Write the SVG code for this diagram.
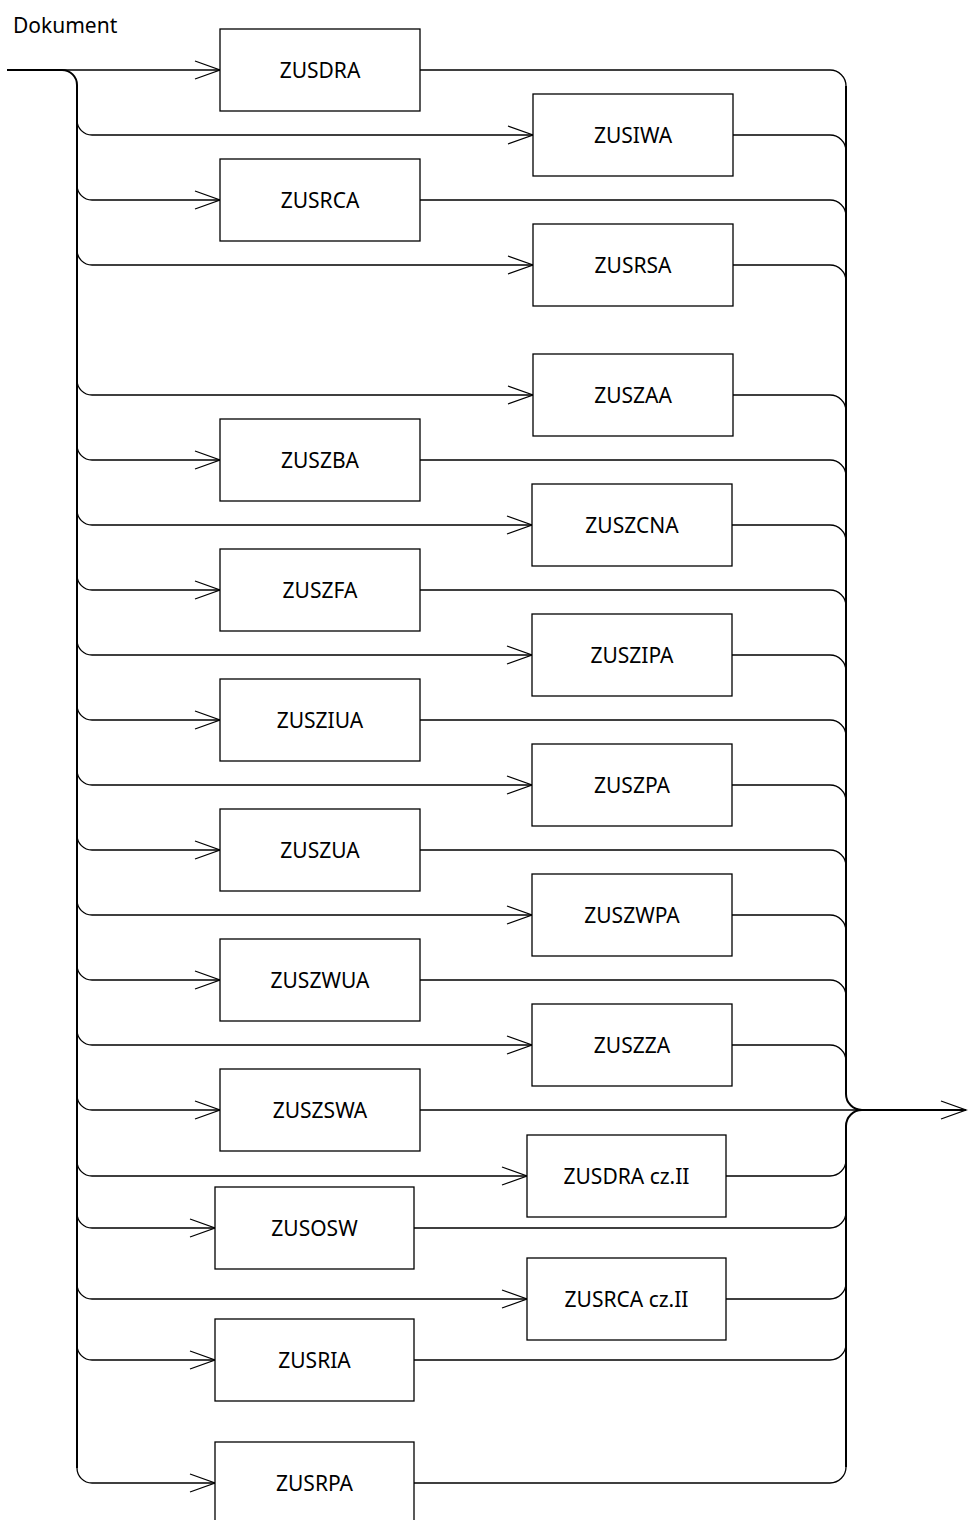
<svg xmlns="http://www.w3.org/2000/svg" width="968" height="1520" viewBox="0 0 968 1520">
<defs>
<marker id="arr" markerUnits="userSpaceOnUse" markerWidth="30" markerHeight="22" refX="0" refY="0" viewBox="-27 -11 30 22" orient="auto" overflow="visible">
<path d="M-25,-9 L0,0 L-25,9" fill="none" stroke="#000" stroke-width="1.3"/>
</marker>
</defs>
<style>
.box{fill:#fff;stroke:#000;stroke-width:1.3}
.lbl{font-family:"Noto Sans","Liberation Sans",sans-serif;font-size:21px;fill:#000;text-anchor:middle}
.ln{fill:none;stroke:#000;stroke-width:1.3}
.bus{fill:none;stroke:#000;stroke-width:2}
</style>
<rect width="968" height="1520" fill="#fff"/>
<text x="13" y="33" style="font-family:'Noto Sans','Liberation Sans',sans-serif;font-size:21px">Dokument</text>
<g id="connectors">
<path class="bus" d="M7,70 H62 a15,15 0 0 1 15,15 V1468"/>
<path class="ln" d="M62,70 H220" marker-end="url(#arr)"/>
<path class="ln" d="M77,120 a15,15 0 0 0 15,15 H533" marker-end="url(#arr)"/>
<path class="ln" d="M77,185 a15,15 0 0 0 15,15 H220" marker-end="url(#arr)"/>
<path class="ln" d="M77,250 a15,15 0 0 0 15,15 H533" marker-end="url(#arr)"/>
<path class="ln" d="M77,380 a15,15 0 0 0 15,15 H533" marker-end="url(#arr)"/>
<path class="ln" d="M77,445 a15,15 0 0 0 15,15 H220" marker-end="url(#arr)"/>
<path class="ln" d="M77,510 a15,15 0 0 0 15,15 H532" marker-end="url(#arr)"/>
<path class="ln" d="M77,575 a15,15 0 0 0 15,15 H220" marker-end="url(#arr)"/>
<path class="ln" d="M77,640 a15,15 0 0 0 15,15 H532" marker-end="url(#arr)"/>
<path class="ln" d="M77,705 a15,15 0 0 0 15,15 H220" marker-end="url(#arr)"/>
<path class="ln" d="M77,770 a15,15 0 0 0 15,15 H532" marker-end="url(#arr)"/>
<path class="ln" d="M77,835 a15,15 0 0 0 15,15 H220" marker-end="url(#arr)"/>
<path class="ln" d="M77,900 a15,15 0 0 0 15,15 H532" marker-end="url(#arr)"/>
<path class="ln" d="M77,965 a15,15 0 0 0 15,15 H220" marker-end="url(#arr)"/>
<path class="ln" d="M77,1030 a15,15 0 0 0 15,15 H532" marker-end="url(#arr)"/>
<path class="ln" d="M77,1095 a15,15 0 0 0 15,15 H220" marker-end="url(#arr)"/>
<path class="ln" d="M77,1161 a15,15 0 0 0 15,15 H527" marker-end="url(#arr)"/>
<path class="ln" d="M77,1213 a15,15 0 0 0 15,15 H215" marker-end="url(#arr)"/>
<path class="ln" d="M77,1284 a15,15 0 0 0 15,15 H527" marker-end="url(#arr)"/>
<path class="ln" d="M77,1345 a15,15 0 0 0 15,15 H215" marker-end="url(#arr)"/>
<path class="ln" d="M77,1468 a15,15 0 0 0 15,15 H215" marker-end="url(#arr)"/>
<path class="bus" d="M846,86 V1094 a16,16 0 0 0 16,16 H966" marker-end="url(#arr)"/>
<path class="bus" d="M846,1467 V1126 a16,16 0 0 1 16,-16"/>
<path class="ln" d="M420,70 H830 a16,16 0 0 1 16,16"/>
<path class="ln" d="M733,135 H830 a16,16 0 0 1 16,16"/>
<path class="ln" d="M420,200 H830 a16,16 0 0 1 16,16"/>
<path class="ln" d="M733,265 H830 a16,16 0 0 1 16,16"/>
<path class="ln" d="M733,395 H830 a16,16 0 0 1 16,16"/>
<path class="ln" d="M420,460 H830 a16,16 0 0 1 16,16"/>
<path class="ln" d="M732,525 H830 a16,16 0 0 1 16,16"/>
<path class="ln" d="M420,590 H830 a16,16 0 0 1 16,16"/>
<path class="ln" d="M732,655 H830 a16,16 0 0 1 16,16"/>
<path class="ln" d="M420,720 H830 a16,16 0 0 1 16,16"/>
<path class="ln" d="M732,785 H830 a16,16 0 0 1 16,16"/>
<path class="ln" d="M420,850 H830 a16,16 0 0 1 16,16"/>
<path class="ln" d="M732,915 H830 a16,16 0 0 1 16,16"/>
<path class="ln" d="M420,980 H830 a16,16 0 0 1 16,16"/>
<path class="ln" d="M732,1045 H830 a16,16 0 0 1 16,16"/>
<path class="ln" d="M420,1110 H862"/>
<path class="ln" d="M726,1176 H830 a16,16 0 0 0 16,-16"/>
<path class="ln" d="M414,1228 H830 a16,16 0 0 0 16,-16"/>
<path class="ln" d="M726,1299 H830 a16,16 0 0 0 16,-16"/>
<path class="ln" d="M414,1360 H830 a16,16 0 0 0 16,-16"/>
<path class="ln" d="M414,1483 H830 a16,16 0 0 0 16,-16"/>
</g>
<g id="n1"><rect class="box" x="220" y="29" width="200" height="82"/><text class="lbl" x="320" y="77.5">ZUSDRA</text></g>
<g id="n2"><rect class="box" x="533" y="94" width="200" height="82"/><text class="lbl" x="633" y="142.5">ZUSIWA</text></g>
<g id="n3"><rect class="box" x="220" y="159" width="200" height="82"/><text class="lbl" x="320" y="207.5">ZUSRCA</text></g>
<g id="n4"><rect class="box" x="533" y="224" width="200" height="82"/><text class="lbl" x="633" y="272.5">ZUSRSA</text></g>
<g id="n5"><rect class="box" x="533" y="354" width="200" height="82"/><text class="lbl" x="633" y="402.5">ZUSZAA</text></g>
<g id="n6"><rect class="box" x="220" y="419" width="200" height="82"/><text class="lbl" x="320" y="467.5">ZUSZBA</text></g>
<g id="n7"><rect class="box" x="532" y="484" width="200" height="82"/><text class="lbl" x="632" y="532.5">ZUSZCNA</text></g>
<g id="n8"><rect class="box" x="220" y="549" width="200" height="82"/><text class="lbl" x="320" y="597.5">ZUSZFA</text></g>
<g id="n9"><rect class="box" x="532" y="614" width="200" height="82"/><text class="lbl" x="632" y="662.5">ZUSZIPA</text></g>
<g id="n10"><rect class="box" x="220" y="679" width="200" height="82"/><text class="lbl" x="320" y="727.5">ZUSZIUA</text></g>
<g id="n11"><rect class="box" x="532" y="744" width="200" height="82"/><text class="lbl" x="632" y="792.5">ZUSZPA</text></g>
<g id="n12"><rect class="box" x="220" y="809" width="200" height="82"/><text class="lbl" x="320" y="857.5">ZUSZUA</text></g>
<g id="n13"><rect class="box" x="532" y="874" width="200" height="82"/><text class="lbl" x="632" y="922.5">ZUSZWPA</text></g>
<g id="n14"><rect class="box" x="220" y="939" width="200" height="82"/><text class="lbl" x="320" y="987.5">ZUSZWUA</text></g>
<g id="n15"><rect class="box" x="532" y="1004" width="200" height="82"/><text class="lbl" x="632" y="1052.5">ZUSZZA</text></g>
<g id="n16"><rect class="box" x="220" y="1069" width="200" height="82"/><text class="lbl" x="320" y="1117.5">ZUSZSWA</text></g>
<g id="n17"><rect class="box" x="527" y="1135" width="199" height="82"/><text class="lbl" x="626.5" y="1183.5">ZUSDRA cz.II</text></g>
<g id="n18"><rect class="box" x="215" y="1187" width="199" height="82"/><text class="lbl" x="314.5" y="1235.5">ZUSOSW</text></g>
<g id="n19"><rect class="box" x="527" y="1258" width="199" height="82"/><text class="lbl" x="626.5" y="1306.5">ZUSRCA cz.II</text></g>
<g id="n20"><rect class="box" x="215" y="1319" width="199" height="82"/><text class="lbl" x="314.5" y="1367.5">ZUSRIA</text></g>
<g id="n21"><rect class="box" x="215" y="1442" width="199" height="82"/><text class="lbl" x="314.5" y="1490.5">ZUSRPA</text></g>
</svg>
